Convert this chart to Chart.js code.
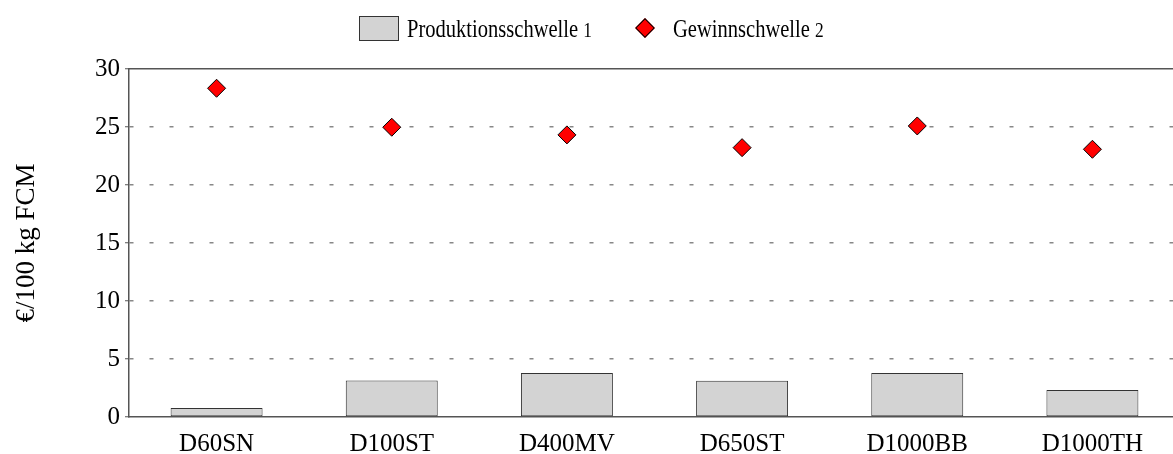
<!DOCTYPE html>
<html>
<head>
<meta charset="utf-8">
<script src="https://cdn.jsdelivr.net/npm/chart.js@4/dist/chart.umd.min.js"></script>
<style>
  html, body { margin:0; padding:0; width:1173px; height:454px; overflow:hidden; background:#fff; }
  #wrap { position:relative; width:1173px; height:454px; overflow:hidden; }
  canvas { position:absolute; left:0; top:0; }
  .lg { position:absolute; font-family:"Liberation Serif","Times New Roman",serif; color:#000; white-space:nowrap; }
  .lgtext { font-size:26px; transform-origin:0 0; transform:scaleX(0.79); line-height:26px; }
  .lgtext sup { font-size:22px; vertical-align:baseline; }
  #box1 { position:absolute; left:359px; top:16px; width:38px; height:23px; background:#d3d3d3; border:1px solid #333; }
  #dia { position:absolute; left:638px; top:21px; width:12px; height:12px; background:#ff0000; border:1px solid #000; transform:rotate(45deg); }
</style>
</head>
<body>
<div id="wrap">
  <canvas id="c" width="1190" height="454"></canvas>
  <div id="box1"></div>
  <div class="lg lgtext" style="left:407px; top:16px;">Produktionsschwelle <sup>1</sup></div>
  <div id="dia"></div>
  <div class="lg lgtext" style="left:673px; top:16px;">Gewinnschwelle <sup>2</sup></div>
</div>
<script>
const categories = ["D60SN", "D100ST", "D400MV", "D650ST", "D1000BB", "D1000TH"];
const produktionsschwelle = [0.78, 3.15, 3.79, 3.13, 3.79, 2.33];
const gewinnschwelle = [28.34, 24.98, 24.32, 23.22, 25.09, 23.08];
const yTicks = [0, 5, 10, 15, 20, 25, 30];
const yTitle = "€/100 kg FCM";

const serif = "'Liberation Serif', 'Times New Roman', serif";

new Chart(document.getElementById('c'), {
  data: {
    labels: categories,
    datasets: [
      {
        type: 'bar',
        label: 'Produktionsschwelle 1',
        data: produktionsschwelle,
        backgroundColor: '#d3d3d3',
        borderColor: '#333333',
        borderWidth: 1,
        borderSkipped: false,
        barPercentage: 0.525,
        categoryPercentage: 1.0,
        order: 2
      },
      {
        type: 'line',
        label: 'Gewinnschwelle 2',
        data: gewinnschwelle,
        showLine: false,
        pointStyle: 'rectRot',
        pointRadius: 9,
        pointHoverRadius: 9,
        pointBackgroundColor: '#ff0000',
        pointBorderColor: '#000000',
        pointBorderWidth: 1,
        order: 1
      }
    ]
  },
  options: {
    responsive: false,
    animation: false,
    devicePixelRatio: 1,
    layout: { padding: { top: 69, left: 0, right: 4, bottom: 0 } },
    plugins: { legend: { display: false }, tooltip: { enabled: false } },
    scales: {
      x: {
        type: 'category',
        position: 'bottom',
        grid: { display: false },
        border: { display: true, color: '#555555', width: 1.5 },
        ticks: { font: { family: serif, size: 25 }, color: '#000', padding: 4, maxRotation: 0, autoSkip: false },
        afterFit(scale) { scale.height = 37; }
      },
      x2: {
        type: 'category',
        position: 'top',
        grid: { display: false },
        border: { display: true, color: '#555555', width: 1.5 },
        ticks: { display: false },
        afterFit(scale) { scale.height = 0; }
      },
      y: {
        type: 'linear',
        min: 0,
        max: 30,
        afterBuildTicks(scale) { scale.ticks = yTicks.map(v => ({ value: v })); },
        grid: {
          color: (ctx) => (ctx.tick && (ctx.tick.value === 0 || ctx.tick.value === 30)) ? 'rgba(0,0,0,0)' : '#888888',
          lineWidth: 1.5,
          drawTicks: true,
          tickLength: 4,
          tickColor: '#555555',
          tickBorderDash: [],
          tickWidth: 1
        },
        border: { display: true, color: '#555555', width: 1.5, dash: [4, 16], dashOffset: 0 },
        ticks: { font: { family: serif, size: 25 }, color: '#000', padding: 5 },
        title: {
          display: true,
          text: yTitle,
          font: { family: serif, size: 27 },
          color: '#000',
          padding: { top: 11, bottom: 0 }
        },
        afterFit(scale) { scale.width = 129; }
      }
    }
  }
});
</script>
</body>
</html>
